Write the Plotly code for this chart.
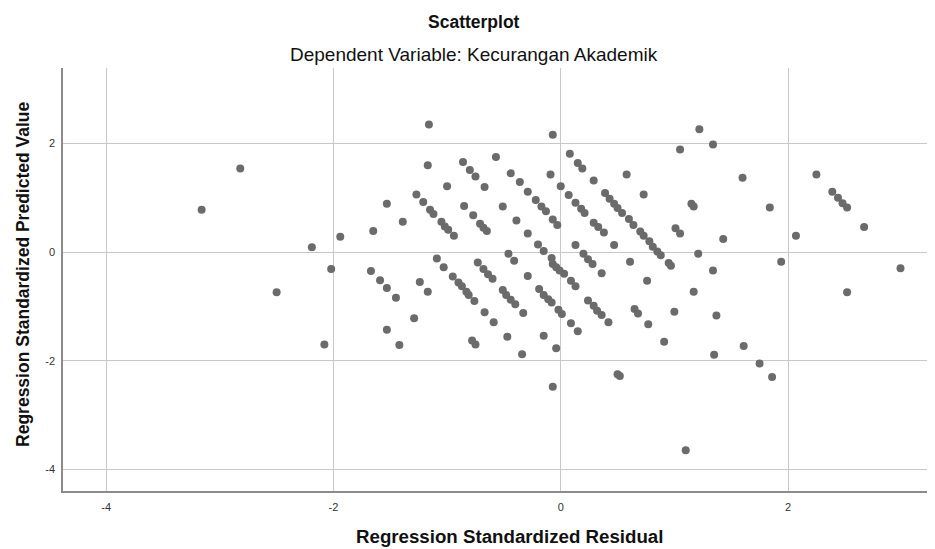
import plotly.graph_objects as go

# Regression Standardized Residual (x) and Regression Standardized Predicted Value (y)
residual = [
    -3.16, -2.82, -2.50, -2.19, -1.94, -2.02, -2.08,
    -1.16, -1.17, -1.53, -1.39, -1.65,
    -1.27, -1.21, -1.15, -1.12, -1.05, -1.02, -0.99, -0.94,
    -1.00,
    -0.86, -0.80, -0.75, -0.67,
    -0.85, -0.77, -0.71, -0.68, -0.65,
    -0.57, -0.44, -0.36, -0.29, -0.22, -0.17, -0.13, -0.07, -0.03,
    -0.51, -0.39, -0.29, -0.20, -0.15, -0.08,
    -0.07, -0.09,
    -0.46, -0.41, -0.29,
    -1.09, -1.03, -0.95, -0.90, -0.87, -0.83, -0.81, -0.76, -0.67, -0.59,
    -0.73, -0.68, -0.64, -0.60,
    -1.67, -1.59, -1.53, -1.45,
    -1.24, -1.17, -1.29, -1.53, -1.42,
    -0.78, -0.75,
    -0.51, -0.48, -0.44, -0.40, -0.33,
    -0.47, -0.34,
    -0.19, -0.15, -0.11, -0.08, -0.02, 0.01,
    -0.15, -0.04, -0.07,
    -0.07, -0.04, -0.01, 0.03, 0.09, 0.13,
    0.09, 0.15,
    0.00, 0.07, 0.13, 0.18, 0.21, 0.29, 0.33, 0.38, 0.47,
    0.13,
    0.08, 0.15, 0.19, 0.29,
    0.39, 0.43, 0.47, 0.50, 0.54, 0.60, 0.64, 0.70, 0.73, 0.78, 0.81, 0.85, 0.88, 0.95, 0.97,
    0.58, 0.73,
    1.22, 1.34, 1.05, 1.60, 1.84, 2.07,
    1.15, 1.17, 1.01, 1.05, 1.43, 1.21, 1.94,
    0.20, 0.24, 0.28, 0.61, 0.36,
    1.34, 1.17, 1.37, 1.00,
    0.76, 0.65, 0.68, 0.77, 0.91,
    1.35, 1.61, 1.75, 1.86, 0.50, 0.52,
    0.24, 0.29, 0.32, 0.36, 0.42,
    1.10,
    2.25, 2.39, 2.44, 2.48, 2.52, 2.67, 2.99, 2.52,
]
predicted = [
    0.78, 1.54, -0.74, 0.09, 0.28, -0.31, -1.70,
    2.35, 1.60, 0.89, 0.56, 0.39,
    1.06, 0.92, 0.78, 0.70, 0.56, 0.47, 0.41, 0.30,
    1.21,
    1.66, 1.51, 1.39, 1.20,
    0.85, 0.68, 0.52, 0.45, 0.39,
    1.75, 1.45, 1.29, 1.11, 0.96, 0.84, 0.75, 0.60, 0.50,
    0.84, 0.58, 0.34, 0.14, 0.02, -0.11,
    2.16, 1.43,
    -0.03, -0.16, -0.44,
    -0.12, -0.28, -0.45, -0.56, -0.63, -0.73, -0.79, -0.90, -1.11, -1.29,
    -0.19, -0.31, -0.41, -0.49,
    -0.35, -0.52, -0.66, -0.84,
    -0.55, -0.73, -1.22, -1.43, -1.71,
    -1.63, -1.70,
    -0.70, -0.79, -0.88, -0.96, -1.12,
    -1.56, -1.88,
    -0.68, -0.79, -0.87, -0.93, -1.06, -1.14,
    -1.54, -1.77, -2.48,
    -0.22, -0.28, -0.34, -0.40, -0.53, -0.63,
    -1.31, -1.46,
    1.21, 1.05, 0.91, 0.80, 0.72, 0.54, 0.46, 0.36, 0.13,
    0.13,
    1.81, 1.64, 1.54, 1.32,
    1.09, 0.98, 0.89, 0.81, 0.72, 0.61, 0.50, 0.38, 0.30, 0.20, 0.10, 0.01, -0.06, -0.20, -0.25,
    1.43, 1.06,
    2.26, 1.98, 1.89, 1.37, 0.82, 0.30,
    0.89, 0.84, 0.44, 0.34, 0.24, -0.03, -0.18,
    -0.03, -0.13, -0.22, -0.18, -0.39,
    -0.34, -0.73, -1.17, -1.10,
    -0.53, -1.05, -1.13, -1.33, -1.65,
    -1.89, -1.73, -2.05, -2.30, -2.25, -2.28,
    -0.89, -0.99, -1.08, -1.16, -1.29,
    -3.65,
    1.43, 1.11, 1.00, 0.90, 0.82, 0.46, -0.30, -0.74,
]

tick_vals = [-4, -2, 0, 2]
tick_text = ["-4", "-2", "0", "2"]

FONT = "Liberation Sans, Arial, sans-serif"

fig = go.Figure()
fig.add_trace(go.Scatter(
    x=residual, y=predicted, mode="markers",
    marker=dict(color="#6b6b6b", size=8, line=dict(width=0)),
    hoverinfo="x+y", showlegend=False,
))

fig.update_layout(
    width=935, height=549,
    margin=dict(l=55, r=0, t=60, b=66, pad=0),
    paper_bgcolor="white", plot_bgcolor="white",
    font=dict(family=FONT, color="#222222"),
    xaxis=dict(
        range=[-4.38, 3.364], tickvals=tick_vals, ticktext=tick_text,
        showgrid=True, gridcolor="#c8c8c8", gridwidth=1,
        zeroline=False, showline=True, linecolor="#8c8c8c", linewidth=1.5,
        ticks="outside", ticklen=5, tickcolor="rgba(0,0,0,0)",
        tickfont=dict(size=11, color="#333333"),
    ),
    yaxis=dict(
        range=[-4.40, 3.39], tickvals=tick_vals, ticktext=tick_text,
        showgrid=True, gridcolor="#c8c8c8", gridwidth=1,
        zeroline=False, showline=True, linecolor="#8c8c8c", linewidth=1.5,
        ticks="outside", ticklen=4, tickcolor="rgba(0,0,0,0)",
        tickfont=dict(size=11, color="#333333"),
    ),
    annotations=[
        dict(text="<b>Scatterplot</b>", xref="paper", yref="paper",
             x=0.467, y=1.109, xanchor="center", yanchor="middle",
             showarrow=False, font=dict(size=17.5, color="#111111")),
        dict(text="Dependent Variable: Kecurangan Akademik", xref="paper", yref="paper",
             x=0.467, y=1.031, xanchor="center", yanchor="middle",
             showarrow=False, font=dict(size=19, color="#111111")),
        dict(text="<b>Regression Standardized Residual</b>", xref="paper", yref="paper",
             x=0.507, y=-0.108, xanchor="center", yanchor="middle",
             showarrow=False, font=dict(size=18.7, color="#111111")),
        dict(text="<b>Regression Standardized Predicted Value</b>", xref="paper", yref="paper",
             x=-0.0455, y=0.513, xanchor="center", yanchor="middle", textangle=-90,
             showarrow=False, font=dict(size=17.5, color="#111111")),
    ],
)

fig.write_html("out.html")
